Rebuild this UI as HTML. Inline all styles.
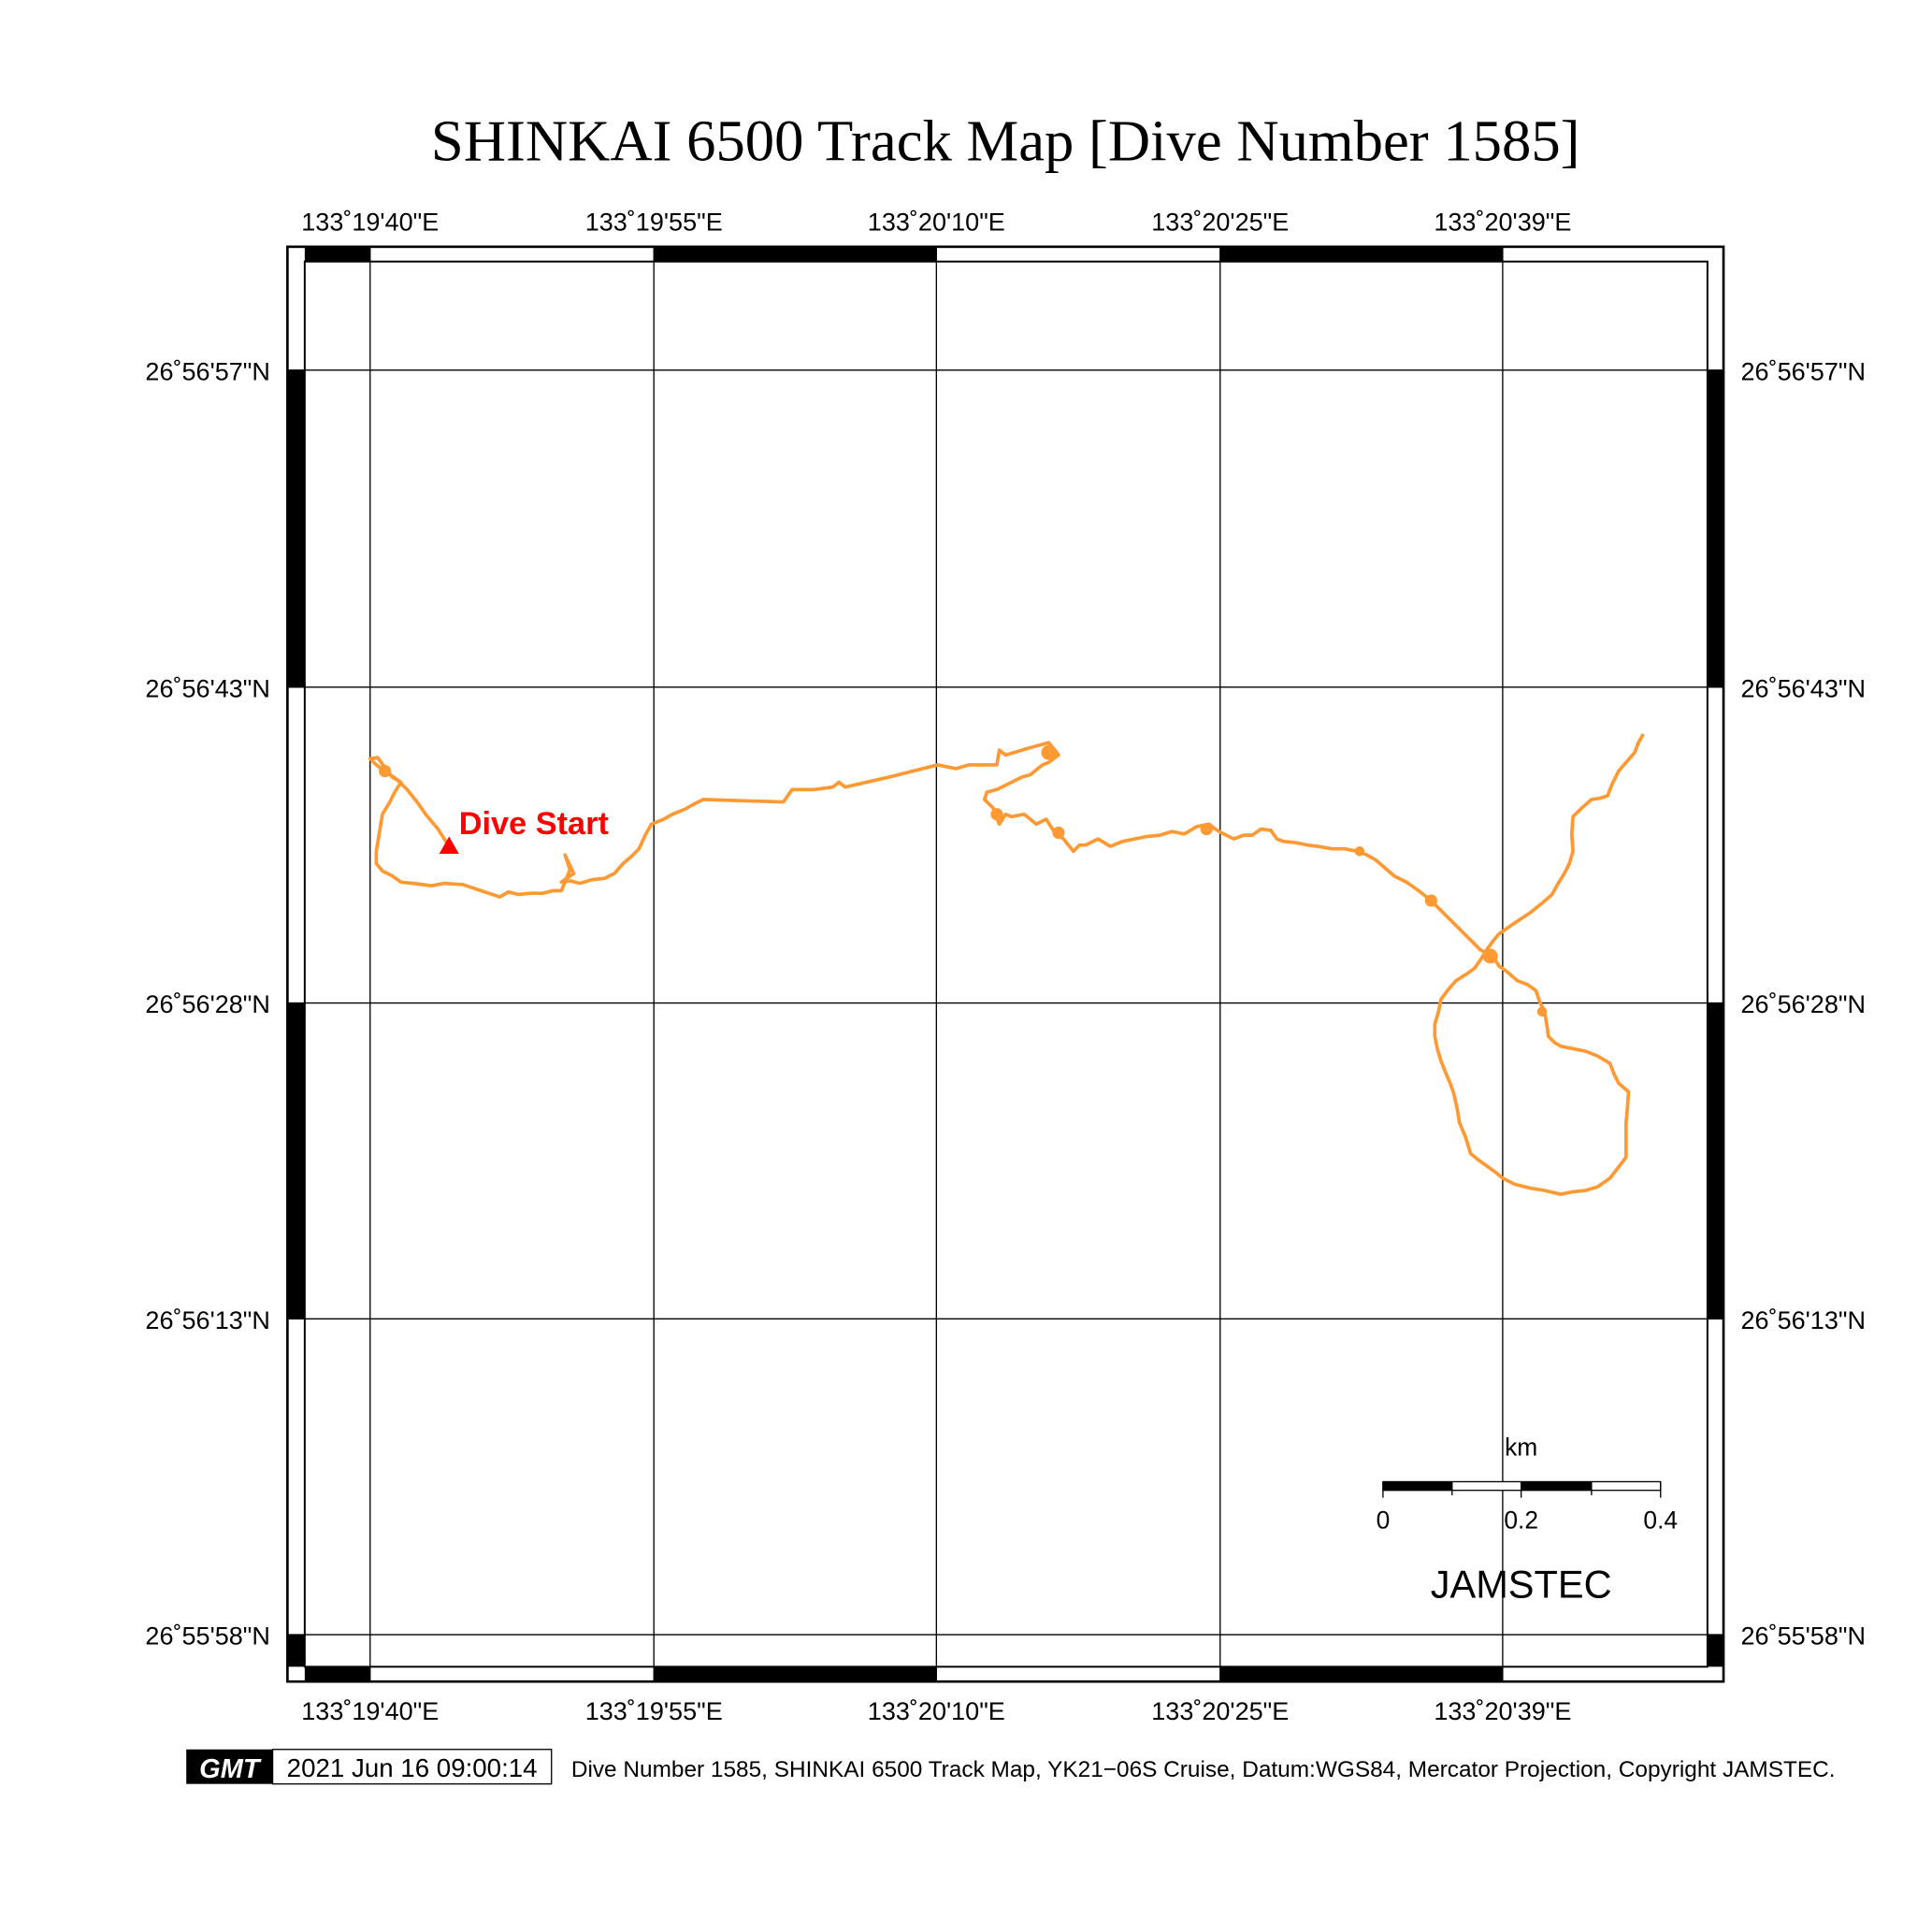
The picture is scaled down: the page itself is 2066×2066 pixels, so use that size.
<!DOCTYPE html>
<html><head><style>html,body{margin:0;padding:0;background:#fff}svg{display:block}</style></head>
<body>
<svg width="2066" height="2066" viewBox="0 0 1566 1566" xmlns="http://www.w3.org/2000/svg" font-family="Liberation Sans, sans-serif">
<rect width="1566" height="1566" fill="#fff"/>
<text x="815" y="130" font-family="Liberation Serif, serif" font-size="47.5" text-anchor="middle">SHINKAI 6500 Track Map [Dive Number 1585]</text>
<rect x="233" y="200" width="1164" height="1163" fill="#fff" stroke="#000" stroke-width="2"/>
<g fill="#000">
<rect x="247" y="200" width="53" height="12"/><rect x="530" y="200" width="229" height="12"/><rect x="989" y="200" width="229" height="12"/>
<rect x="247" y="1351" width="53" height="12"/><rect x="530" y="1351" width="229" height="12"/><rect x="989" y="1351" width="229" height="12"/>
<rect x="233" y="300" width="14" height="257"/><rect x="233" y="813" width="14" height="256"/><rect x="233" y="1325" width="14" height="26"/>
<rect x="1384" y="300" width="13" height="257"/><rect x="1384" y="813" width="13" height="256"/><rect x="1384" y="1325" width="13" height="26"/>
</g>
<rect x="247" y="212" width="1137" height="1139" fill="none" stroke="#000" stroke-width="1.5"/>
<g stroke="#000" stroke-width="1">
<line x1="300" y1="200" x2="300" y2="1363"/><line x1="530" y1="200" x2="530" y2="1363"/><line x1="759" y1="200" x2="759" y2="1363"/><line x1="989" y1="200" x2="989" y2="1363"/><line x1="1218" y1="200" x2="1218" y2="1363"/>
<line x1="233" y1="300" x2="1397" y2="300"/><line x1="233" y1="557" x2="1397" y2="557"/><line x1="233" y1="813" x2="1397" y2="813"/><line x1="233" y1="1069" x2="1397" y2="1069"/><line x1="233" y1="1325" x2="1397" y2="1325"/>
</g>
<g font-size="20.5" text-anchor="middle">
<text x="300" y="187">133˚19'40"E</text><text x="530" y="187">133˚19'55"E</text><text x="759" y="187">133˚20'10"E</text><text x="989" y="187">133˚20'25"E</text><text x="1218" y="187">133˚20'39"E</text>
<text x="300" y="1394">133˚19'40"E</text><text x="530" y="1394">133˚19'55"E</text><text x="759" y="1394">133˚20'10"E</text><text x="989" y="1394">133˚20'25"E</text><text x="1218" y="1394">133˚20'39"E</text>
</g>
<g font-size="20.5" text-anchor="end">
<text x="219" y="308">26˚56'57"N</text><text x="219" y="565">26˚56'43"N</text><text x="219" y="821">26˚56'28"N</text><text x="219" y="1077">26˚56'13"N</text><text x="219" y="1333">26˚55'58"N</text>
</g>
<g font-size="20.5">
<text x="1411" y="308">26˚56'57"N</text><text x="1411" y="565">26˚56'43"N</text><text x="1411" y="821">26˚56'28"N</text><text x="1411" y="1077">26˚56'13"N</text><text x="1411" y="1333">26˚55'58"N</text>
</g>
<polyline fill="none" stroke="#ff9933" stroke-width="2.8" stroke-linejoin="round" points="364,686 355,672 345,660 338,650 330,640 322,632 312,625 305,620 300,615 306,614 312,622 318,630 325,634 320,642 316,650 310,660 308,672 305,690 305,700 310,706 318,710 325,715 335,716 350,718 360,716 375,717 390,722 405,727 412,723 420,725 430,724 440,724 448,722 455,722 462,705 458,693 465,708 455,715 462,714 470,716 480,713 490,712 498,708 505,700 512,694 518,688 523,677 528,668 538,664 545,660 555,656 562,652 570,648 600,649 635,650 642,640 660,640 675,638 680,634 685,638 720,630 760,620 775,623 785,620 808,620 810,608 815,612 822,610 835,606 850,602 855,608 858,612 850,618 845,620 840,624 835,628 828,630 818,635 812,638 808,640 800,642 798,648 805,655 810,668 815,660 820,662 830,660 840,668 848,664 855,675 862,680 870,690 875,685 880,685 890,680 900,686 910,682 920,680 930,678 940,677 950,674 960,676 970,670 980,668 985,672 990,675 1000,680 1008,677 1015,677 1022,672 1030,673 1035,680 1040,682 1050,683 1060,685 1068,686 1080,688 1090,688 1100,690 1108,693 1115,697 1122,703 1130,710 1140,715 1150,722 1160,730 1170,740 1178,748 1185,755 1192,762 1200,770 1210,775 1215,783 1222,788 1230,795 1238,798 1245,803 1248,812 1252,820 1254,832 1255,840 1260,845 1265,848 1275,850 1285,852 1295,856 1305,862 1308,870 1312,878 1320,885 1319,900 1318,910 1318,925 1318,938 1312,946 1305,955 1295,962 1285,965 1275,966 1265,968 1252,965 1240,963 1228,960 1218,955 1212,950 1205,945 1198,940 1192,935 1188,922 1183,910 1181,898 1178,885 1175,877 1172,870 1168,860 1165,850 1163,840 1163,830 1166,820 1168,810 1174,802 1180,795 1188,790 1195,785 1200,778 1205,770 1210,763 1215,757 1225,750 1240,740 1250,732 1258,725 1263,716 1268,708 1272,700 1275,690 1274,676 1275,662 1282,655 1290,648 1297,647 1303,645 1307,635 1312,625 1318,618 1325,610 1328,602 1332,595"/>
<g fill="#ff9933">
<circle cx="312" cy="625" r="5"/><circle cx="850" cy="610" r="6"/><circle cx="808" cy="660" r="5"/><circle cx="858" cy="675" r="5"/><circle cx="978" cy="672" r="5"/><circle cx="1102" cy="690" r="4"/><circle cx="1160" cy="730" r="5"/><circle cx="1208" cy="775" r="6"/><circle cx="1250" cy="820" r="4"/>
</g>
<polygon points="364,678 356,692 372,692" fill="#ff0000"/>
<text x="372" y="676" font-size="26" font-weight="bold" fill="#ff0000">Dive Start</text>
<rect x="1121" y="1201" width="225" height="7" fill="#fff" stroke="#000" stroke-width="1"/>
<rect x="1121" y="1201" width="56" height="7" fill="#000"/><rect x="1233" y="1201" width="57" height="7" fill="#000"/>
<g stroke="#000" stroke-width="1"><line x1="1121" y1="1201" x2="1121" y2="1214"/><line x1="1177" y1="1201" x2="1177" y2="1212"/><line x1="1233" y1="1201" x2="1233" y2="1214"/><line x1="1290" y1="1201" x2="1290" y2="1212"/><line x1="1346" y1="1201" x2="1346" y2="1214"/></g>
<g font-size="20" text-anchor="middle"><text x="1121" y="1239">0</text><text x="1233" y="1239">0.2</text><text x="1346" y="1239">0.4</text><text x="1233" y="1180">km</text></g>
<text x="1233" y="1295" font-size="31.5" text-anchor="middle">JAMSTEC</text>
<rect x="151" y="1418" width="70" height="28" fill="#000"/>
<text x="186" y="1441" font-size="22" font-weight="bold" font-style="italic" fill="#fff" text-anchor="middle">GMT</text>
<rect x="221" y="1418" width="226" height="28" fill="#fff" stroke="#000" stroke-width="1"/>
<text x="334" y="1440" font-size="21" text-anchor="middle">2021 Jun 16 09:00:14</text>
<text x="463" y="1440" font-size="18.5">Dive Number 1585, SHINKAI 6500 Track Map, YK21−06S Cruise, Datum:WGS84, Mercator Projection, Copyright JAMSTEC.</text>
</svg>
</body></html>
